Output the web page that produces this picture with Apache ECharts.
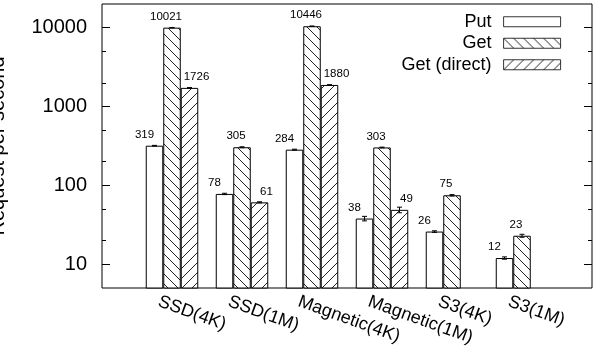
<!DOCTYPE html>
<html>
<head>
<meta charset="utf-8">
<script src="https://cdn.jsdelivr.net/npm/echarts@6/dist/echarts.min.js"></script>
<style>
html,body{margin:0;padding:0;background:#fff;}
#chart{width:595px;height:348px;}
</style>
</head>
<body>
<div id="chart"></div>
<script>
// data
var categories = ['SSD(4K)', 'SSD(1M)', 'Magnetic(4K)', 'Magnetic(1M)', 'S3(4K)', 'S3(1M)'];
var putData = [319, 78, 284, 38, 26, 12];
var getData = [10021, 305, 10446, 303, 75, 23];
var getDirectData = [1726, 61, 1880, 49, null, null];
var putErr = [3, 1.5, 4, 2.5, 0.6, 0.4];
var getErr = [60, 4, 80, 3, 1.5, 1];
var getDirectErr = [15, 1, 15, 4, null, null];
var majorTicks = [10, 100, 1000, 10000];
var minorTicks = [20, 50, 200, 500, 2000, 5000];

var FONT = 'Liberation Sans';
var barW = 17.5;

// empty slot at each end of the x axis
var slots = [''].concat(categories, ['']);
function pad(a){ return [null].concat(a, [null]); }

// diagonal hatch fill
function hatch(dir){
  var c = document.createElement('canvas');
  c.width = 10; c.height = 10;
  var g = c.getContext('2d');
  g.fillStyle = '#fff';
  g.fillRect(0, 0, 10, 10);
  g.strokeStyle = '#222';
  g.lineWidth = 1;
  g.beginPath();
  if (dir > 0) { g.moveTo(-2, 12); g.lineTo(12, -2); }
  else { g.moveTo(-2, -2); g.lineTo(12, 12); }
  g.stroke();
  return {image: c, repeat: 'repeat'};
}

function barSeries(name, vals, fill, labelOff){
  return {
    name: name,
    type: 'bar',
    xAxisIndex: 0,
    yAxisIndex: 0,
    barWidth: barW,
    barGap: '0%',
    data: pad(vals),
    itemStyle: {color: fill, borderColor: '#000', borderWidth: 1},
    label: {
      show: true,
      position: 'top',
      distance: 5,
      offset: [labelOff, 0],
      color: '#000',
      fontFamily: FONT,
      fontSize: 11.5
    }
  };
}

function errSeries(vals, errs, off){
  var d = [];
  vals.forEach(function(v, i){
    if (v != null) d.push([i + 1, v - errs[i], v + errs[i]]);
  });
  return {
    type: 'custom',
    xAxisIndex: 0,
    yAxisIndex: 0,
    z: 5,
    silent: true,
    data: d,
    renderItem: function(params, api){
      var lo = api.coord([api.value(0), api.value(1)]);
      var hi = api.coord([api.value(0), api.value(2)]);
      var x = lo[0] + off, w = 2.5;
      var st = {stroke: '#000', lineWidth: 1};
      return {type: 'group', children: [
        {type: 'line', shape: {x1: x, y1: lo[1], x2: x, y2: hi[1]}, style: st},
        {type: 'line', shape: {x1: x - w, y1: lo[1], x2: x + w, y2: lo[1]}, style: st},
        {type: 'line', shape: {x1: x - w, y1: hi[1], x2: x + w, y2: hi[1]}, style: st}
      ]};
    }
  };
}

function logAxis(pos, ticks, len, labels){
  return {
    type: 'log',
    logBase: 10,
    min: 5,
    max: 20000,
    position: pos,
    axisLine: {show: false},
    splitLine: {show: false},
    axisTick: {show: true, inside: true, length: len, customValues: ticks, lineStyle: {color: '#000'}},
    axisLabel: labels ? {
      show: true, customValues: ticks, margin: 15,
      formatter: function(v){ return String(Math.round(v)); },
      color: '#000', fontFamily: FONT, fontSize: 20
    } : {show: false}
  };
}

var chart = echarts.init(document.getElementById('chart'));

var yMain = logAxis('left', majorTicks, 8, true);
yMain.name = 'Request per second';
yMain.nameLocation = 'middle';
yMain.nameGap = 94;
yMain.nameTextStyle = {color: '#000', fontFamily: FONT, fontSize: 20};

chart.setOption({
  animation: false,
  textStyle: {fontFamily: FONT},
  grid: {
    left: 102, right: 3, top: 4, bottom: 60,
    containLabel: false, outerBoundsMode: 'none',
    show: true, borderColor: '#000', borderWidth: 1
  },
  legend: {
    data: ['Put', 'Get', 'Get (direct)'],
    orient: 'vertical',
    right: 29,
    top: 6,
    align: 'right',
    icon: 'rect',
    itemWidth: 57,
    itemHeight: 10,
    itemGap: 0,
    itemStyle: {borderWidth: 0.8, borderColor: '#000'},
    textStyle: {color: '#000', fontFamily: FONT, fontSize: 18, lineHeight: 21.5, padding: [0, 7, 0, 0]}
  },
  xAxis: [
    {
      type: 'category',
      data: slots,
      boundaryGap: false,
      axisLine: {show: false},
      axisTick: {show: false},
      axisLabel: {show: false}
    },
    {
      type: 'value',
      min: 0,
      max: 7,
      position: 'bottom',
      axisLine: {show: false},
      axisTick: {show: false},
      splitLine: {show: false},
      axisLabel: {
        customValues: categories.map(function(c, i){ return i + 1 - 0.19; }),
        formatter: function(v){ return categories[Math.round(v) - 1]; },
        rotate: -20,
        margin: 13,
        color: '#000',
        fontFamily: FONT,
        fontSize: 18
      }
    }
  ],
  yAxis: [
    yMain,
    logAxis('left', minorTicks, 4, false),
    logAxis('right', majorTicks, 8, false),
    logAxis('right', minorTicks, 4, false)
  ],
  series: [
    barSeries('Put', putData, '#fff', -10),
    barSeries('Get', getData, hatch(-1), -6),
    barSeries('Get (direct)', getDirectData, hatch(1), 7),
    errSeries(putData, putErr, -barW),
    errSeries(getData, getErr, 0),
    errSeries(getDirectData, getDirectErr, barW)
  ]
});
</script>
</body>
</html>
